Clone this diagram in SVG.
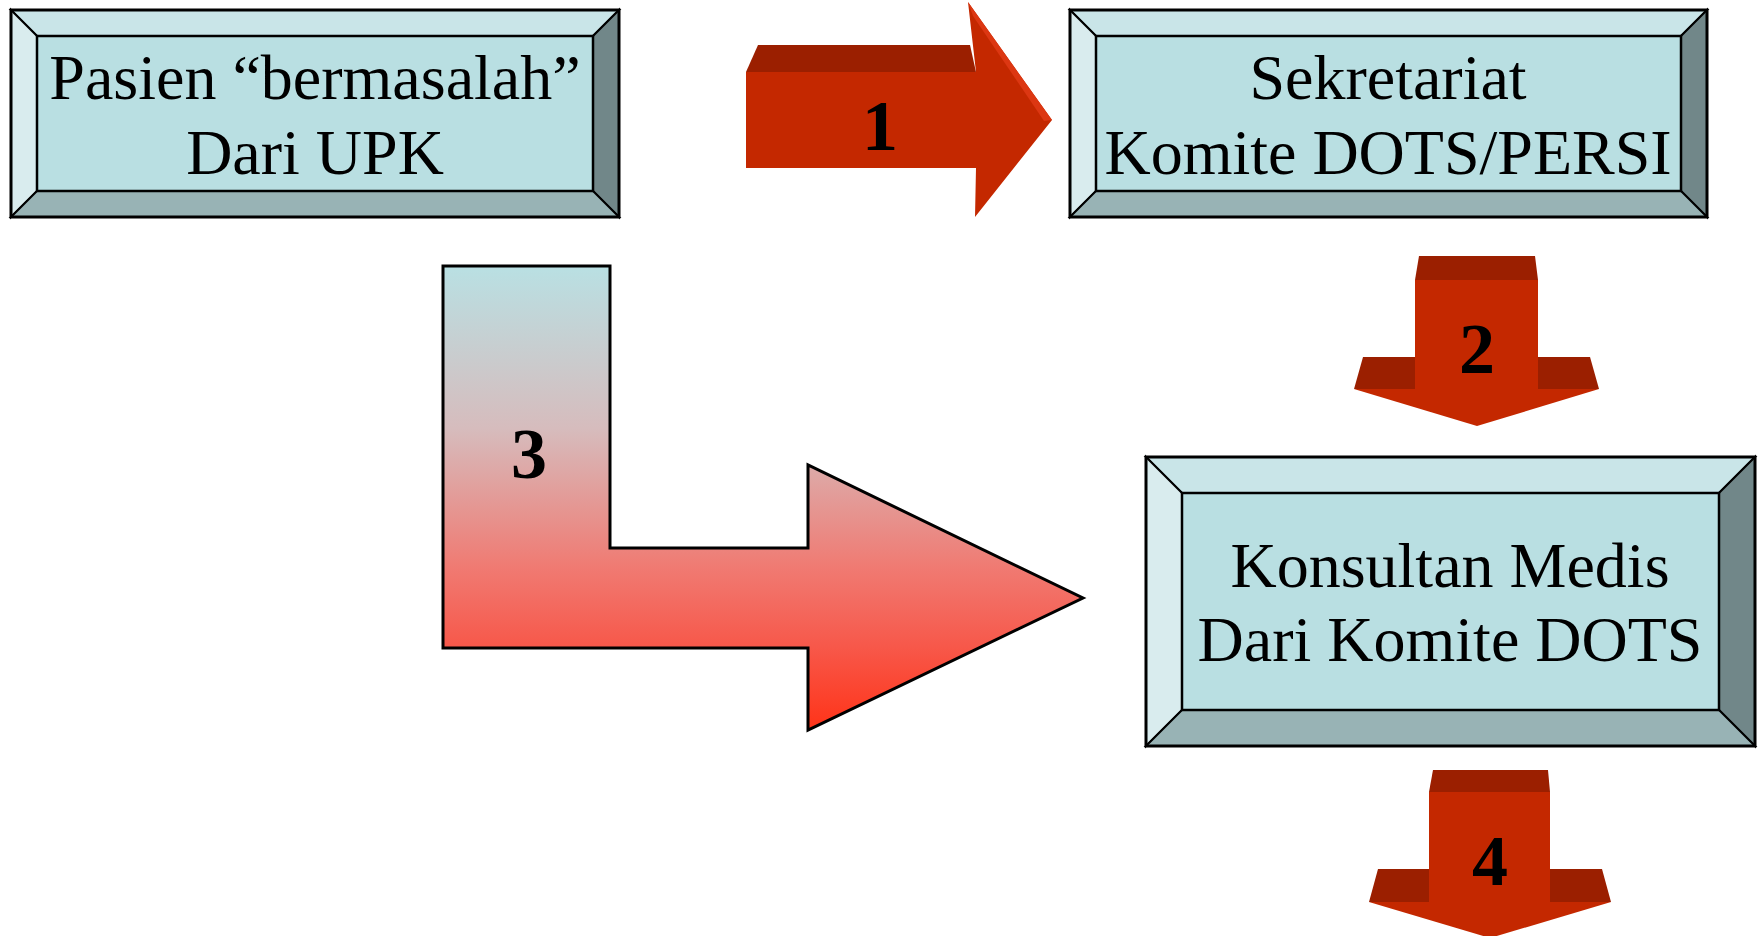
<svg xmlns="http://www.w3.org/2000/svg" width="1764" height="936" viewBox="0 0 1764 936">
<defs>
<style>
.face{fill:#b9dfe2;stroke:#000;stroke-width:2.5}
.top{fill:#c9e5e8;stroke:#000;stroke-width:2}
.left{fill:#d9ecee;stroke:#000;stroke-width:2}
.right{fill:#718789;stroke:#000;stroke-width:2}
.bot{fill:#98b3b5;stroke:#000;stroke-width:2}
.outer{fill:none;stroke:#000;stroke-width:3}
.lbl{font-family:"Liberation Serif","Times New Roman",serif;font-size:64px;fill:#000;text-anchor:middle}
.num{font-family:"Liberation Serif","Times New Roman",serif;font-size:72px;font-weight:bold;fill:#000;text-anchor:middle}
.af{fill:#c42800}
.ad{fill:#9b1f00}
.ae{fill:#dc3712}
</style>
<linearGradient id="g3" x1="0" y1="266" x2="0" y2="730" gradientUnits="userSpaceOnUse">
<stop offset="0" stop-color="#b9e0e3"/>
<stop offset="0.35" stop-color="#d6bcbd"/>
<stop offset="0.65" stop-color="#f07a72"/>
<stop offset="0.82" stop-color="#f7584a"/>
<stop offset="1" stop-color="#ff3318"/>
</linearGradient>
</defs>

<g id="node-pasien">
<polygon class="top" points="11,10 619,10 593,36 37,36"/>
<polygon class="left" points="11,10 37,36 37,191 11,217"/>
<polygon class="right" points="619,10 619,217 593,191 593,36"/>
<polygon class="bot" points="11,217 37,191 593,191 619,217"/>
<rect class="face" x="37" y="36" width="556" height="155"/>
<rect class="outer" x="11" y="10" width="608" height="207"/>
<text class="lbl" x="315" y="99">Pasien “bermasalah”</text>
<text class="lbl" x="315" y="174">Dari UPK</text>
</g>

<g id="node-sekretariat">
<polygon class="top" points="1070,10 1707,10 1681,36 1096,36"/>
<polygon class="left" points="1070,10 1096,36 1096,191 1070,217"/>
<polygon class="right" points="1707,10 1707,217 1681,191 1681,36"/>
<polygon class="bot" points="1070,217 1096,191 1681,191 1707,217"/>
<rect class="face" x="1096" y="36" width="585" height="155"/>
<rect class="outer" x="1070" y="10" width="637" height="207"/>
<text class="lbl" x="1388" y="99">Sekretariat</text>
<text class="lbl" x="1388" y="174">Komite DOTS/PERSI</text>
</g>

<g id="node-konsultan">
<polygon class="top" points="1146,457 1755,457 1719,493 1182,493"/>
<polygon class="left" points="1146,457 1182,493 1182,710 1146,746"/>
<polygon class="right" points="1755,457 1755,746 1719,710 1719,493"/>
<polygon class="bot" points="1146,746 1182,710 1719,710 1755,746"/>
<rect class="face" x="1182" y="493" width="537" height="217"/>
<rect class="outer" x="1146" y="457" width="609" height="289"/>
<text class="lbl" x="1450" y="587">Konsultan Medis</text>
<text class="lbl" x="1450" y="661">Dari Komite DOTS</text>
</g>

<g id="connectors">
<g id="arrow-1">
<polygon class="ad" points="746,72 758,45 970,45 976,72"/>
<rect class="af" x="746" y="72" width="231" height="96"/>
<polygon class="af" points="968,2 1052,120 975,217 976,168 976,72"/>
<polygon class="ae" points="968,2 1052,120 1044,121 973,16"/>
<text class="num" x="880" y="150">1</text>
</g>
<g id="arrow-2">
<polygon class="ad" points="1415,280 1419,256 1535,256 1538,280"/>
<rect class="af" x="1415" y="280" width="123" height="109"/>
<polygon class="ad" points="1363,357 1415,357 1415,389 1354,389"/>
<polygon class="ad" points="1538,357 1590,357 1599,389 1538,389"/>
<polygon class="af" points="1354,389 1599,389 1477,426"/>
<text class="num" x="1477" y="373">2</text>
</g>
<g id="arrow-3">
<polygon fill="url(#g3)" stroke="#000" stroke-width="3" points="443,266 610,266 610,548 808,548 808,465 1083,598 808,730 808,648 443,648"/>
<text class="num" x="529" y="478">3</text>
</g>
<g id="arrow-4">
<polygon class="ad" points="1429,792 1433,770 1548,770 1550,792"/>
<rect class="af" x="1429" y="792" width="121" height="110"/>
<polygon class="ad" points="1378,869 1429,869 1429,902 1369,902"/>
<polygon class="ad" points="1550,869 1602,869 1611,902 1550,902"/>
<polygon class="af" points="1369,902 1611,902 1490,938"/>
<text class="num" x="1490" y="885">4</text>
</g>
</g>
</svg>
